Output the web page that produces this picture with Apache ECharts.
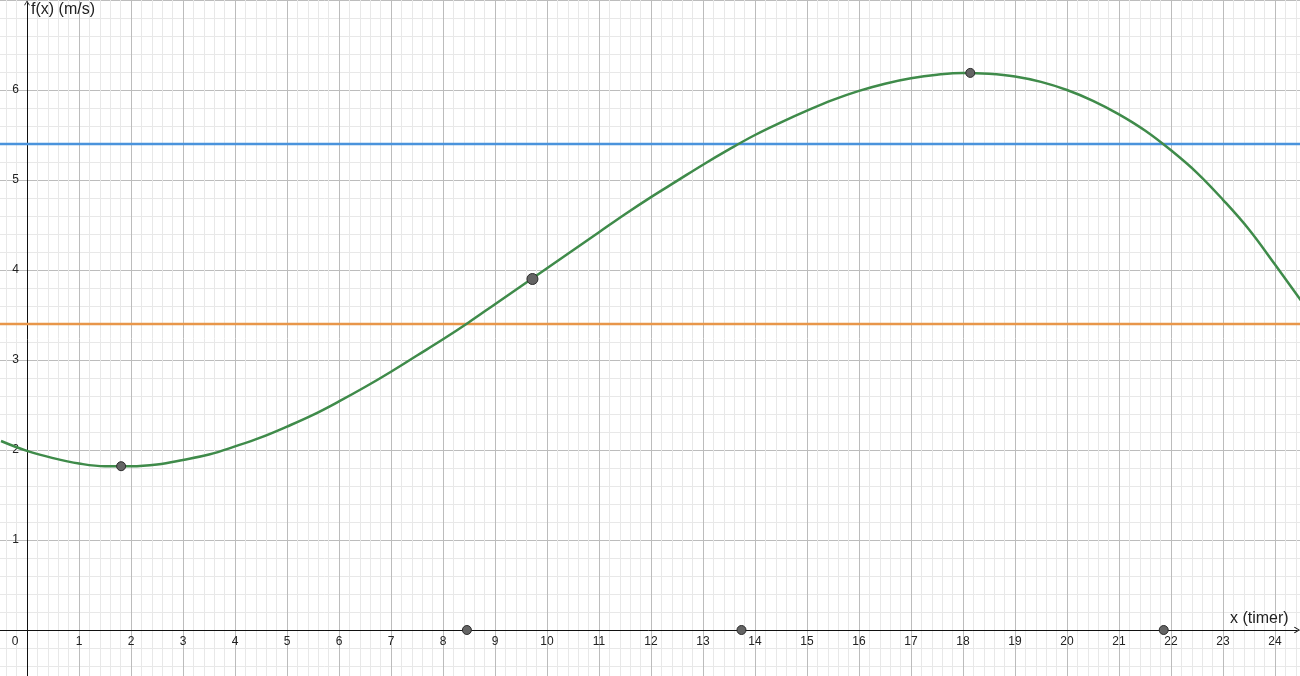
<!DOCTYPE html>
<html>
<head>
<meta charset="utf-8">
<script src="https://cdn.jsdelivr.net/npm/echarts@6/dist/echarts.min.js"></script>
<style>html,body{margin:0;padding:0;background:#fff}#c{width:1300px;height:676px}</style>
</head>
<body>
<div id="c"></div>
<script>
// Curve samples (x in hours, f(x) in m/s)
const curveX = [-0.5, 0, 0.5, 1, 1.5, 2, 2.5, 3, 3.5, 4, 4.5, 5, 5.5, 6, 6.5, 7, 7.5, 8, 8.5, 9, 9.5, 10, 10.5, 11, 11.5, 12, 12.5, 13, 13.5, 14, 14.5, 15, 15.5, 16, 16.5, 17, 17.5, 18, 18.5, 19, 19.5, 20, 20.5, 21, 21.5, 22, 22.5, 23, 23.5, 24, 24.5];
const curveY = [2.10, 1.99, 1.91, 1.85, 1.82, 1.82, 1.84, 1.89, 1.95, 2.04, 2.14, 2.26, 2.39, 2.54, 2.70, 2.87, 3.05, 3.23, 3.42, 3.62, 3.82, 4.02, 4.22, 4.42, 4.62, 4.81, 4.99, 5.17, 5.34, 5.50, 5.64, 5.77, 5.89, 5.99, 6.07, 6.13, 6.17, 6.19, 6.18, 6.15, 6.09, 6.00, 5.88, 5.73, 5.55, 5.33, 5.08, 4.78, 4.45, 4.06, 3.66];
// Horizontal reference levels
const levelBlue = 5.4;
const levelOrange = 3.4;
// Marked points
const extremaX = [1.81, 18.14];
const extremaY = [1.82, 6.19];
const markedX = [9.72];
const markedY = [3.9];
const crossingX = [8.46, 13.74, 21.86];
// Axis ranges / tick labels
const xTickMin = -1, xTickMax = 25;
const yTickMin = -1, yTickMax = 7;
const xName = 'x (timer)';
const yName = 'f(x) (m/s)';

const FONT = 'Liberation Sans, Arial, Helvetica, sans-serif';
const zip = (a, b) => a.map((v, i) => [v, b[i]]);

const chart = echarts.init(document.getElementById('c'), null, {renderer: 'canvas'});
const arrowPath = 'path://M5,0 L10,8 L8.8,9 L5,2.4 L1.2,9 L0,8 Z';

chart.setOption({
  animation: false,
  backgroundColor: '#ffffff',
  grid: [
    {left: -25, top: 0, width: 1352, height: 720, containLabel: false, outerBoundsMode: 'none'},
    {left: 0, top: 3, width: 1297, height: 673, containLabel: false, outerBoundsMode: 'none'}
  ],
  xAxis: [
    {
      type: 'value', gridIndex: 0, min: xTickMin, max: xTickMax, interval: 1,
      position: 'bottom', offset: -90,
      axisLine: {show: false, onZero: false},
      axisTick: {show: false},
      splitLine: {show: true, lineStyle: {color: '#bcbcbc', width: 1}},
      minorTick: {show: false, splitNumber: 5},
      minorSplitLine: {show: true, lineStyle: {color: '#e8e8e8', width: 1}},
      axisLabel: {
        margin: 6, color: '#222', fontSize: 12, fontFamily: FONT,
        showMinLabel: false, showMaxLabel: false, hideOverlap: false,
        formatter: v => (v <= xTickMin || v >= xTickMax) ? '' : (v === 0 ? '{o|0}' : String(v)),
        rich: {o: {padding: [0, 24, 0, 0], color: '#222', fontSize: 12, fontFamily: FONT}}
      }
    },
    {
      type: 'value', gridIndex: 1, min: -27 / 52, max: 1270 / 52,
      axisLine: {show: true, onZero: true, symbol: ['none', arrowPath], symbolSize: [10, 6],
        lineStyle: {color: '#111', width: 1}},
      axisTick: {show: false}, axisLabel: {show: false}, splitLine: {show: false}
    }
  ],
  yAxis: [
    {
      type: 'value', gridIndex: 0, min: yTickMin, max: yTickMax, interval: 1,
      position: 'left', offset: -52,
      axisLine: {show: false, onZero: false},
      axisTick: {show: false},
      splitLine: {show: true, lineStyle: {color: '#bcbcbc', width: 1}},
      minorTick: {show: false, splitNumber: 5},
      minorSplitLine: {show: true, lineStyle: {color: '#e8e8e8', width: 1}},
      axisLabel: {
        margin: 8, color: '#222', fontSize: 12, fontFamily: FONT,
        showMinLabel: false, showMaxLabel: false, hideOverlap: false,
        formatter: v => (v <= 0 || v >= yTickMax) ? '' : String(v)
      }
    },
    {
      type: 'value', gridIndex: 1, min: -46 / 90, max: 627 / 90,
      axisLine: {show: true, onZero: true, symbol: ['none', arrowPath], symbolSize: [8, 5],
        lineStyle: {color: '#111', width: 1}},
      axisTick: {show: false}, axisLabel: {show: false}, splitLine: {show: false}
    }
  ],
  graphic: [
    {type: 'text', left: 31, top: 2, z: 100,
      style: {text: yName, fill: '#222', font: '16px ' + FONT}},
    {type: 'text', left: 1230, top: 611, z: 100,
      style: {text: xName, fill: '#222', font: '16px ' + FONT}}
  ],
  series: [
    {
      type: 'line', xAxisIndex: 0, yAxisIndex: 0, z: 3,
      data: [[xTickMin, levelBlue], [xTickMax, levelBlue]],
      showSymbol: false, silent: true,
      lineStyle: {color: '#4a93dc', width: 2.5}
    },
    {
      type: 'line', xAxisIndex: 0, yAxisIndex: 0, z: 3,
      data: [[xTickMin, levelOrange], [xTickMax, levelOrange]],
      showSymbol: false, silent: true,
      lineStyle: {color: '#e8964a', width: 2.5}
    },
    {
      type: 'line', xAxisIndex: 0, yAxisIndex: 0, z: 4,
      data: zip(curveX, curveY),
      showSymbol: false, smooth: 0.4, silent: true,
      lineStyle: {color: '#3f8b4a', width: 2.5}
    },
    {
      type: 'scatter', xAxisIndex: 0, yAxisIndex: 0, z: 6,
      data: zip(extremaX, extremaY).concat(crossingX.map(x => [x, 0])),
      symbolSize: 9,
      itemStyle: {color: '#646464', borderColor: '#2c2c2c', borderWidth: 1, opacity: 1}
    },
    {
      type: 'scatter', xAxisIndex: 0, yAxisIndex: 0, z: 6,
      data: zip(markedX, markedY),
      symbolSize: 11,
      itemStyle: {color: '#646464', borderColor: '#2c2c2c', borderWidth: 1, opacity: 1}
    }
  ]
});
</script>
</body>
</html>
